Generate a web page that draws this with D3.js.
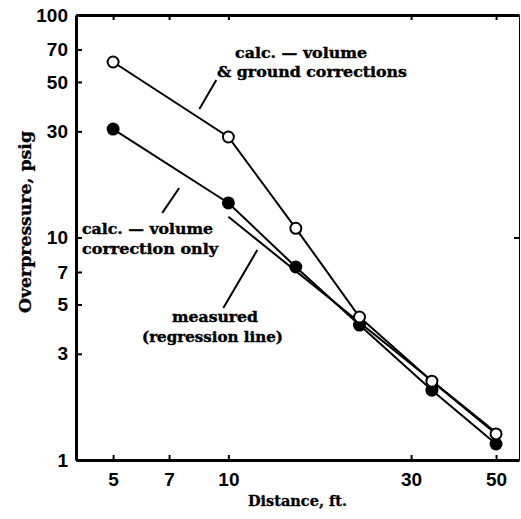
<!DOCTYPE html>
<html>
<head>
<meta charset="utf-8">
<script src="https://cdn.jsdelivr.net/npm/d3@7"></script>
<style>
  body { margin: 0; background: #fff; }
  .axis text { font-family: "Liberation Sans", Arial, sans-serif; font-weight: bold; font-size: 19px; fill: #000; }
  .axis path, .axis line { stroke: #000; }
  .note { font-family: "DejaVu Serif", serif; font-weight: bold; font-size: 14.5px; fill: #000; stroke: #000; stroke-width: 0.4px; }
  .title { font-family: "DejaVu Serif", serif; font-weight: bold; fill: #000; stroke: #000; stroke-width: 0.3px; }
</style>
</head>
<body>
<svg id="chart" width="521" height="519"></svg>
<script>
// values
const distances = [5, 10, 15, 22, 34, 50];
const calcVolumeGround = [61.5, 28.3, 11.0, 4.39, 2.26, 1.31];
const calcVolumeOnly = [30.7, 14.3, 7.37, 4.04, 2.06, 1.18];
const regressionX = [10, 50];
const regressionY = [12.4, 1.33];

const xTicks = [5, 7, 10, 30, 50];
const xTickLabels = ["5", "7", "10", "30", "50"];
const yTicks = [1, 3, 5, 7, 10, 30, 50, 70, 100];

const svg = d3.select("#chart"),
    margin = {top: 15, right: 2, bottom: 59, left: 76},
    width = +svg.attr("width") - margin.left - margin.right,
    height = +svg.attr("height") - margin.top - margin.bottom,
    g = svg.append("g").attr("transform", "translate(" + margin.left + "," + margin.top + ")");

const x = d3.scaleLog().domain([4, 57.4]).range([0, width]);
const y = d3.scaleLog().domain([1, 100]).range([height, 0]);

// frame + ticks (ticks point inward)
g.append("g")
    .attr("class", "axis")
    .attr("transform", "translate(" + width + ",0)")
    .call(d3.axisRight(y).tickValues([10]).tickSize(-5).tickFormat(""))
    .call(a => a.select(".domain").attr("stroke", "#e2e2e2").attr("stroke-width", 1))
    .call(a => a.selectAll(".tick line").attr("stroke-width", 2));

g.append("g")
    .attr("class", "axis")
    .call(d3.axisTop(x).tickValues(xTicks).tickSize(-5).tickSizeOuter(0).tickFormat(""))
    .call(a => a.select(".domain").attr("stroke-width", 3))
    .call(a => a.selectAll(".tick line").attr("stroke-width", 2));

g.append("g")
    .attr("class", "axis")
    .attr("transform", "translate(0," + height + ")")
    .call(d3.axisBottom(x).tickValues(xTicks).tickSize(-5).tickSizeOuter(0).tickPadding(13)
        .tickFormat((d, i) => xTickLabels[i]))
    .call(a => a.select(".domain").attr("stroke-width", 3))
    .call(a => a.selectAll(".tick line").attr("stroke-width", 2));

g.append("g")
    .attr("class", "axis")
    .call(d3.axisLeft(y).tickValues(yTicks).tickSize(-6).tickSizeOuter(0).tickPadding(8)
        .tickFormat(d3.format("d")))
    .call(a => a.select(".domain").attr("stroke-width", 3))
    .call(a => a.selectAll(".tick line").attr("stroke-width", 2));

// series
const line = d3.line().x(d => x(d[0])).y(d => y(d[1]));
const ground = distances.map((d, i) => [d, calcVolumeGround[i]]);
const volOnly = distances.map((d, i) => [d, calcVolumeOnly[i]]);
const regression = regressionX.map((d, i) => [d, regressionY[i]]);

[ground, volOnly, regression].forEach(s => {
    g.append("path")
        .datum(s)
        .attr("fill", "none")
        .attr("stroke", "#000")
        .attr("stroke-width", 2)
        .attr("d", line);
});

g.selectAll(".filled")
    .data(volOnly)
    .enter().append("circle")
    .attr("class", "filled")
    .attr("cx", d => x(d[0]))
    .attr("cy", d => y(d[1]))
    .attr("r", 6.5)
    .attr("fill", "#000");

g.selectAll(".open")
    .data(ground)
    .enter().append("circle")
    .attr("class", "open")
    .attr("cx", d => x(d[0]))
    .attr("cy", d => y(d[1]))
    .attr("r", 5.5)
    .attr("fill", "#fff")
    .attr("stroke", "#000")
    .attr("stroke-width", 2);

// leader lines, in data units
const leaders = [
    [[8.40, 37.8], [9.30, 51.0]],
    [[6.72, 12.9], [7.44, 16.7]],
    [[9.70, 4.82], [11.9, 8.79]]
];
leaders.forEach(l => {
    g.append("path")
        .datum(l)
        .attr("fill", "none")
        .attr("stroke", "#000")
        .attr("stroke-width", 2)
        .attr("d", line);
});

// annotations
const notes = [
    {text: "calc. \u2014 volume", x: 235, y: 58, len: 132},
    {text: "& ground corrections", x: 217, y: 77, len: 190},
    {text: "calc. \u2014 volume", x: 82, y: 234, len: 131},
    {text: "correction only", x: 82, y: 254, len: 136},
    {text: "measured", x: 172, y: 322, len: 86},
    {text: "(regression line)", x: 142, y: 342, len: 141}
];
svg.selectAll(".note")
    .data(notes)
    .enter().append("text")
    .attr("class", "note")
    .attr("x", d => d.x)
    .attr("y", d => d.y)
    .attr("textLength", d => d.len)
    .attr("lengthAdjust", "spacingAndGlyphs")
    .text(d => d.text);

// axis titles
svg.append("text")
    .attr("class", "title")
    .attr("x", margin.left + width / 2)
    .attr("y", 506)
    .attr("text-anchor", "middle")
    .attr("font-size", 14.5)
    .text("Distance, ft.");

svg.append("text")
    .attr("class", "title")
    .attr("transform", "translate(31,222) rotate(-90)")
    .attr("text-anchor", "middle")
    .attr("font-size", 16.5)
    .attr("textLength", 182)
    .attr("lengthAdjust", "spacingAndGlyphs")
    .text("Overpressure, psig");
</script>
</body>
</html>
